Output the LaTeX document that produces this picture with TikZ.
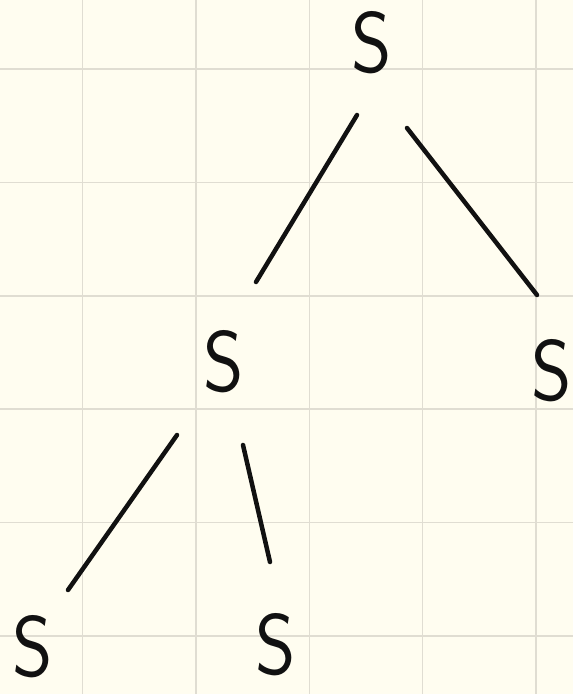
\documentclass[tikz,border=0pt]{standalone}
\usetikzlibrary{calc}
\definecolor{paper}{HTML}{FFFDF0}
\definecolor{gridline}{HTML}{E0DDD2}
\definecolor{ink}{HTML}{111111}
\tikzset{
  sym/.style={inner sep=0pt,text=ink,font=\fontsize{86}{86}\selectfont\sffamily},
  edge/.style={line width=4.5pt,draw=ink,line cap=round}
}
\newcommand{\hsym}{\scalebox{0.9}[1]{S}}
\begin{document}
\begin{tikzpicture}[x=1pt,y=-1pt,line cap=round,line join=round]
  \useasboundingbox (0,0) rectangle (573,694);
  \fill[paper] (0,0) rectangle (573,694);
  \foreach \i in {0,...,4}
    \draw[gridline,line width=1.5pt] (82.7+113.3*\i,0) -- (82.7+113.3*\i,694);
  \foreach \k in {0,...,5}
    \draw[gridline,line width=1.5pt] (0,69+113.4*\k) -- (573,69+113.4*\k);
  \node[sym] (root) at (372,43) {\hsym};
  \node[sym] (sl) at (224,362) {\hsym};
  \node[sym] (sr) at (552,371) {\hsym};
  \node[sym] (sll) at (33,647) {\hsym};
  \node[sym] (slr) at (276,645) {\hsym};
  \draw[edge] ($(root)+(-15,72)$) -- ($(sl)+(32,-80)$);
  \draw[edge] ($(root)+(35,85)$) -- ($(sr)+(-15,-76)$);
  \draw[edge] ($(sl)+(-47,73)$) -- ($(sll)+(35,-57)$);
  \draw[edge] ($(sl)+(19,83)$) -- ($(slr)+(-6,-83)$);
\end{tikzpicture}
\end{document}
